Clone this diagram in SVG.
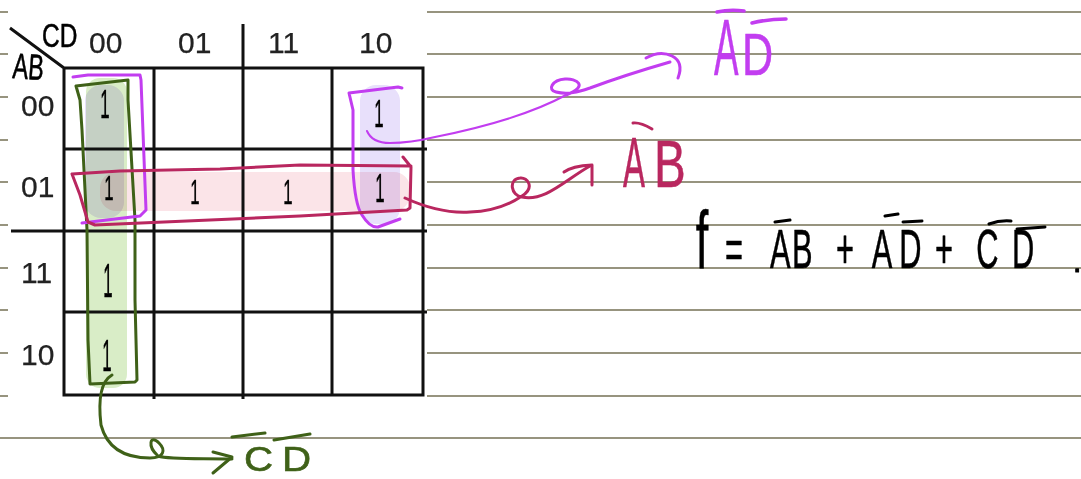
<svg xmlns="http://www.w3.org/2000/svg" width="1081" height="479" viewBox="0 0 1081 479">
<style>
.rule{stroke:#97947f;stroke-width:2;fill:none}
.grid{stroke:#111;stroke-width:3;fill:none}
.lab{font:30px "Liberation Sans",Arial,sans-serif;fill:#222;stroke:#222;stroke-width:.25}
.hand{font-family:"Liberation Sans",Arial,sans-serif;stroke-linejoin:round}
.one{font:40px "Liberation Sans",Arial,sans-serif;fill:#000;text-anchor:middle;stroke:#000;stroke-width:.5}
.ink{fill:none;stroke-linecap:round;stroke-linejoin:round;stroke-width:3}
.m{stroke:#c23df0}.r{stroke:#b9275f}.g{stroke:#3f6118}.k{stroke:#000}
.hl{mix-blend-mode:multiply}
</style>
<rect width="1081" height="479" fill="#fff"/>
<g id="paper-rules">
<path class="rule" d="M427 12H1081M427 54H1081M427 97H1081M427 140H1081M427 182H1081M427 225H1081M427 268H1081M427 310H1081M427 353H1081M427 396H1081M0 438H1081"/>
<path class="rule" d="M0 12H8M0 54H8M0 97H8M0 140H8M0 182H8M0 225H8M0 268H8M0 310H8M0 353H8M0 396H8"/>
</g>
<g id="highlights">
<rect class="hl" x="86" y="78" width="41" height="310" rx="14" fill="#d9edc7"/>
<rect class="hl" x="85" y="85" width="39" height="133" rx="16" fill="#e8e0fb"/>
<rect class="hl" x="360" y="85" width="40" height="139" rx="16" fill="#e8e0fb"/>
<rect class="hl" x="100" y="172" width="310" height="39" rx="16" fill="#fbe4e8"/>
</g>
<g id="kmap-grid">
<path class="grid" d="M64 68H423V395H64ZM154 68V399M243 24V399M332 68V395M64 149H427M11 231H427M64 312H427M10 28L64 68"/>
</g>
<g id="labels">
<text class="lab" x="89" y="53">00</text><text class="lab" x="178" y="53">01</text><text class="lab" x="268" y="53">11</text><text class="lab" x="359" y="53">10</text>
<text class="lab" x="21" y="116">00</text><text class="lab" x="21" y="197">01</text><text class="lab" x="21" y="283">11</text><text class="lab" x="21" y="365">10</text>
<text class="hand" transform="translate(42 47) scale(.72 1)" font-size="34" fill="#000" stroke="#000" stroke-width=".6">CD</text>
<text class="hand" transform="translate(12 78) rotate(4) scale(.65 1)" font-size="36" fill="#000" stroke="#000" stroke-width=".6">AB</text>
</g>
<g id="ones">
<text class="one" transform="translate(105 118) scale(.42 1)">1</text>
<text class="one" transform="translate(109 200) scale(.42 .9)">1</text>
<text class="one" transform="translate(195 204) scale(.42 .9)">1</text>
<text class="one" transform="translate(288 204) scale(.42 .9)">1</text>
<text class="one" transform="translate(380 202) scale(.42 1)">1</text>
<text class="one" transform="translate(379 127) scale(.42 .95)">1</text>
<text class="one" transform="translate(108 297) scale(.42 1.2)">1</text>
<text class="one" transform="translate(107 371) scale(.42 1.1)">1</text>
</g>
<g id="group-green">
<path class="ink g" d="M76 86L128 80L128 100L135 220L135 300L137 380L135 382L90 384L88 340L87 230L82 130L80 100Z"/>
</g>
<g id="group-purple-left">
<path class="ink m" d="M73 77L88 75L140 75L141 80L146 210L140 216L82 223"/>
</g>
<g id="group-purple-right">
<path class="ink m" d="M402 88L398 87L349 93L353 110L353 170Q355 205 362 215Q370 228 378 227L400 219"/>
</g>
<g id="group-crimson">
<path class="ink r" d="M403 157L411 167L410 208L407 210L300 216L95 225L88 222L80 195L72 174L120 171L220 169L300 165L411 166"/>
</g>
<g id="connectors">
<path class="ink m" style="stroke-width:2" d="M367 131Q372 143 390 143Q410 143 435 137Q520 120 566 95"/>
<path class="ink m" d="M566 95C590 86 576 78 565 79C552 80 547 90 556 92C568 95 578 92 590 88Q625 75 670 62"/>
<path class="ink m" d="M646 58Q660 50 672 56Q684 62 678 78"/>
<path class="ink r" d="M405 198Q440 214 470 212Q500 211 522 196C535 188 528 177 520 178C508 179 511 196 522 197C545 202 565 180 590 166"/>
<path class="ink r" d="M564 172Q572 166 592 165L592 185"/>
<path class="ink g" d="M112 375C100 382 98 400 101 425C108 452 130 458 150 458C164 458 166 450 159 443C150 434 147 446 158 456C170 460 205 458 232 459"/>
<path class="ink g" d="M213 452L232 457L213 473"/>
</g>
<g id="result-AD">
<text class="hand" fill="#c23df0" stroke="#c23df0" stroke-width=".6" transform="translate(714 75) scale(.46 1)" font-size="80">A</text>
<text class="hand" fill="#c23df0" stroke="#c23df0" stroke-width=".6" transform="translate(742 75) scale(.72 1)" font-size="60">D</text>
<path class="ink m" style="stroke-width:3.5" d="M717 12Q730 9 744 11M752 23Q768 19 786 19"/>
</g>
<g id="result-AB">
<text class="hand" fill="#b9275f" stroke="#b9275f" stroke-width=".6" transform="translate(623 187) scale(.47 1)" font-size="70">A</text>
<text class="hand" fill="#b9275f" stroke="#b9275f" stroke-width=".6" transform="translate(654 187) scale(.68 .95)" font-size="70">B</text>
<path class="ink r" d="M633 123Q640 122 652 129"/>
</g>
<g id="result-CD">
<text class="hand" fill="#3f6118" stroke="#3f6118" stroke-width=".6" transform="translate(244 471) scale(1.12 1)" font-size="36">C</text>
<text class="hand" fill="#3f6118" stroke="#3f6118" stroke-width=".6" transform="translate(282 471) scale(1.12 1)" font-size="36">D</text>
<path class="ink g" d="M232 437L265 433M274 440L310 434"/>
</g>
<g id="formula">
<text class="hand" fill="#000" stroke="#000" stroke-width=".6" font-size="56" transform="scale(.55 1)" x="1265 1318 1400 1440 1520 1585 1635 1700 1775 1840" y="268"><tspan font-size="82">f</tspan>=AB+AD+CD</text>
<text class="hand" fill="#000" stroke="#000" font-size="30" x="1073" y="272">.</text>
<path class="ink k" d="M775 222L790 220M885 216L898 214M903 222L922 221M989 224Q1000 220 1011 221M1017 229L1045 227"/>
</g>
</svg>
